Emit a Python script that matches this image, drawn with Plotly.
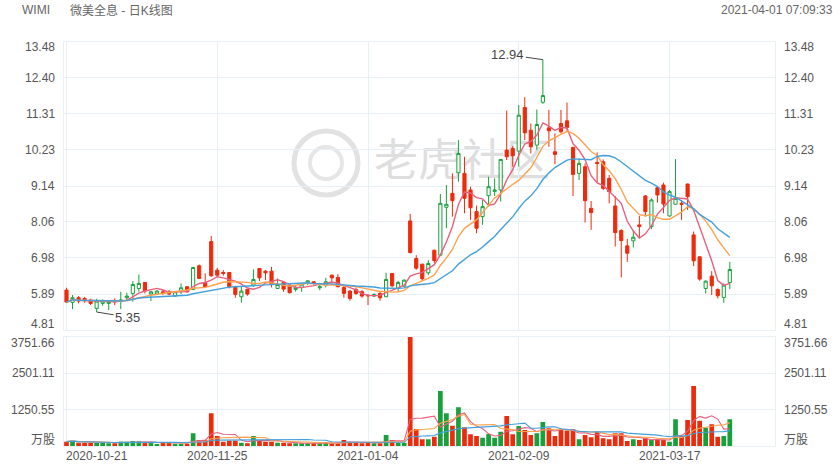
import plotly.graph_objects as go
import pandas as pd
import numpy as np

# ---------------- data ----------------
holidays = ['2020-11-26', '2020-12-25', '2021-01-01', '2021-01-18', '2021-02-15']
dates = [d.strftime('%Y-%m-%d') for d in
         pd.bdate_range('2020-10-21', '2021-03-31', freq='C', holidays=holidays)]

opens = [6.01, 5.64, 5.78, 5.76, 5.71, 5.46, 5.61, 5.61, 5.69, 5.68,
         5.78, 5.91, 6.06, 6.24, 5.89, 5.89, 5.96, 5.96, 5.83, 5.96,
         6.11, 6.03, 6.74, 6.23, 7.47, 6.61, 6.54, 6.54, 6.10, 5.81,
         6.03, 6.16, 6.66, 6.58, 6.58, 6.06, 6.24, 6.16, 6.03, 6.09,
         6.21, 6.26, 6.08, 6.16, 6.46, 6.39, 6.09, 5.98, 6.03, 5.96,
         5.86, 5.83, 5.91, 5.81, 6.51, 6.06, 6.13, 8.09, 6.96, 6.79,
         6.53, 7.21, 7.06, 8.50, 8.92, 9.54, 9.52, 9.02, 8.37, 8.22,
         8.85, 8.98, 9.02, 10.22, 10.27, 10.19, 11.50, 10.82, 10.37, 11.66,
         10.89, 10.17, 11.02, 11.10, 10.30, 9.52, 9.72, 8.47, 9.85, 9.87,
         9.37, 8.54, 7.80, 7.34, 7.49, 7.97, 8.84, 7.92, 9.09, 9.17,
         8.24, 8.59, 8.62, 9.20, 7.67, 7.01, 6.06, 6.43, 6.03, 5.79,
         6.24]
highs = [6.08, 5.86, 5.83, 5.80, 5.75, 5.75, 5.73, 5.71, 5.76, 5.96,
         5.93, 6.28, 6.48, 6.25, 5.98, 6.01, 6.03, 6.01, 5.98, 6.21,
         6.13, 6.71, 6.78, 6.51, 7.64, 6.68, 6.61, 6.55, 6.14, 6.11,
         6.04, 6.63, 6.67, 6.61, 6.71, 6.36, 6.26, 6.18, 6.13, 6.21,
         6.30, 6.27, 6.23, 6.38, 6.47, 6.49, 6.13, 6.01, 6.09, 6.01,
         5.88, 5.91, 5.96, 6.53, 6.52, 6.29, 6.33, 8.30, 7.06, 6.80,
         6.91, 7.22, 8.90, 9.17, 9.52, 10.52, 10.02, 9.12, 8.55, 8.72,
         9.42, 9.37, 9.95, 11.41, 10.34, 11.58, 11.81, 11.02, 11.44, 12.94,
         11.43, 10.72, 11.43, 11.65, 10.32, 9.97, 9.82, 8.69, 10.15, 9.94,
         9.47, 8.84, 7.84, 7.55, 7.82, 8.24, 8.87, 8.77, 9.12, 9.24,
         9.02, 9.95, 8.72, 9.21, 7.77, 7.03, 6.30, 6.58, 6.06, 6.21,
         6.86]
lows = [5.62, 5.44, 5.61, 5.63, 5.56, 5.35, 5.54, 5.41, 5.56, 5.44,
        5.71, 5.66, 5.96, 5.91, 5.68, 5.88, 5.86, 5.86, 5.81, 5.89,
        5.93, 6.01, 6.34, 6.10, 6.41, 6.41, 6.44, 6.06, 5.78, 5.63,
        5.84, 6.11, 6.28, 6.31, 6.09, 6.05, 5.96, 5.91, 5.96, 5.96,
        6.16, 6.17, 6.01, 6.09, 6.26, 6.10, 5.78, 5.69, 5.86, 5.78,
        5.56, 5.81, 5.69, 5.80, 6.09, 5.96, 6.12, 7.11, 6.62, 6.29,
        6.46, 6.82, 7.05, 7.87, 8.22, 9.27, 8.32, 8.12, 7.72, 7.97,
        8.52, 8.84, 8.67, 9.92, 9.72, 9.72, 10.52, 10.12, 10.22, 11.61,
        10.32, 9.80, 10.72, 10.80, 8.84, 9.32, 8.04, 7.82, 9.25, 9.02,
        8.62, 7.32, 6.39, 6.86, 7.29, 7.57, 8.22, 7.84, 8.64, 8.32,
        8.22, 8.58, 8.12, 8.42, 6.73, 6.29, 5.91, 5.86, 5.76, 5.63,
        6.04]
closes = [5.65, 5.78, 5.68, 5.69, 5.61, 5.68, 5.68, 5.66, 5.66, 5.71,
          5.83, 6.18, 6.21, 5.98, 5.96, 5.98, 5.93, 5.89, 5.96, 6.08,
          5.96, 6.69, 6.36, 6.11, 6.44, 6.46, 6.51, 6.11, 5.88, 5.98,
          5.89, 6.33, 6.38, 6.53, 6.19, 6.18, 6.04, 5.93, 6.09, 6.19,
          6.29, 6.23, 6.11, 6.26, 6.38, 6.11, 5.91, 5.76, 5.91, 5.83,
          5.84, 5.88, 5.78, 6.33, 6.14, 6.24, 6.31, 7.14, 6.67, 6.35,
          6.81, 6.90, 8.62, 8.59, 8.70, 10.12, 8.77, 8.49, 7.87, 8.52,
          9.12, 9.02, 9.94, 10.02, 10.05, 11.27, 10.74, 10.32, 10.99, 11.86,
          10.80, 10.09, 10.77, 10.90, 9.49, 9.82, 8.70, 8.34, 9.82, 9.07,
          8.97, 7.74, 7.50, 7.12, 7.60, 7.92, 8.37, 8.72, 8.87, 8.60,
          8.97, 8.77, 8.59, 8.82, 6.89, 6.34, 6.28, 6.14, 5.84, 6.16,
          6.63]
volumes = [149, 183, 114, 114, 114, 114, 114, 91, 91, 149,
           149, 172, 160, 137, 114, 69, 114, 114, 80, 80,
           80, 435, 206, 206, 1121, 343, 149, 183, 183, 114,
           91, 343, 206, 149, 149, 114, 114, 91, 91, 91,
           91, 91, 91, 137, 91, 114, 206, 137, 114, 91,
           114, 91, 91, 378, 206, 114, 114, 3751.66, 583, 229,
           229, 320, 1888, 1121, 698, 1327, 641, 400, 343, 286,
           412, 286, 492, 1030, 400, 686, 549, 378, 435, 824,
           606, 343, 572, 526, 572, 229, 378, 297, 492, 263,
           229, 435, 435, 172, 229, 206, 263, 206, 206, 206,
           149, 915, 343, 892, 2059, 869, 629, 744, 320, 343,
           915]

price_ticks = [4.81, 5.89, 6.98, 8.06, 9.14, 10.23, 11.31, 12.40, 13.48]
vol_ticks = [0, 1250.55, 2501.11, 3751.66]
vol_tick_text = ['万股', '1250.55', '2501.11', '3751.66']
date_ticks = ['2020-10-21', '2020-11-25', '2021-01-04', '2021-02-09', '2021-03-17']
title_code = 'WIMI'
title_name = '微美全息 - 日K线图'
timestamp = '2021-04-01 07:09:33'
watermark = '老虎社区'

# ---------------- style ----------------
RED = '#ee2a0c'
GREEN = '#18a03c'
MA_COLORS = {5: '#e9607f', 10: '#ffa24f', 20: '#44a0dc'}
GRID = '#e8f0f7'
TXT = '#555555'
FONT = 'Liberation Sans, Arial, Noto Sans CJK SC, sans-serif'
W, H = 840, 470
PX_L, PX_R = 64, 775
P_TOP, P_BOT = 41.7, 330
V_TOP, V_BOT = 336.7, 446


def py(px):
    return (H - px) / H


close_s = pd.Series(closes)
vol_s = pd.Series(volumes)

fig = go.Figure()
fig.add_trace(go.Candlestick(
    x=dates, open=opens, high=highs, low=lows, close=closes,
    increasing=dict(line=dict(color=GREEN, width=1), fillcolor='white'),
    decreasing=dict(line=dict(color=RED, width=1), fillcolor=RED),
    whiskerwidth=0, hoverinfo='skip', xaxis='x', yaxis='y', showlegend=False))
for n, c in MA_COLORS.items():
    fig.add_trace(go.Scatter(x=dates, y=close_s.rolling(n, min_periods=1).mean(),
                             mode='lines', line=dict(color=c, width=1.4),
                             hoverinfo='skip', xaxis='x', yaxis='y', showlegend=False))

bar_colors = [GREEN if c >= o else RED for o, c in zip(opens, closes)]
fig.add_trace(go.Bar(x=dates, y=volumes, marker=dict(color=bar_colors, line=dict(width=0)),
                     hoverinfo='skip', xaxis='x2', yaxis='y2', showlegend=False))
for n, c in MA_COLORS.items():
    fig.add_trace(go.Scatter(x=dates, y=vol_s.rolling(n, min_periods=1).mean(),
                             mode='lines', line=dict(color=c, width=1.1),
                             hoverinfo='skip', xaxis='x2', yaxis='y2', showlegend=False))

xr = [-(66.5 - PX_L) / 6.03, (PX_R - 66.5) / 6.03]
axis_common = dict(showline=True, linecolor=GRID, linewidth=1, mirror=True,
                   showgrid=True, gridcolor=GRID, gridwidth=1, zeroline=False,
                   showticklabels=False, ticks='', fixedrange=True)

annotations = []
# y labels
for v in price_ticks:
    shift = -5 if v == price_ticks[-1] else (6 if v == price_ticks[0] else 0)
    lab = f'{v:.2f}'
    annotations.append(dict(x=57 / W, xref='paper', y=v, yref='y', text=lab, showarrow=False,
                            xanchor='right', yanchor='middle', yshift=shift))
    annotations.append(dict(x=782 / W, xref='paper', y=v, yref='y', text=lab, showarrow=False,
                            xanchor='left', yanchor='middle', yshift=shift))
for v, lab in zip(vol_ticks, vol_tick_text):
    shift = -6 if v == vol_ticks[-1] else (6 if v == vol_ticks[0] else 0)
    annotations.append(dict(x=57 / W, xref='paper', y=v, yref='y2', text=lab, showarrow=False,
                            xanchor='right', yanchor='middle', yshift=shift))
    annotations.append(dict(x=782 / W, xref='paper', y=v, yref='y2', text=lab, showarrow=False,
                            xanchor='left', yanchor='middle', yshift=shift))
# x labels
for k, d in enumerate(date_ticks):
    if k == 0:
        annotations.append(dict(x=PX_L / W, xref='paper', y=py(456), yref='paper', text=d,
                                showarrow=False, xanchor='left', yanchor='middle'))
    else:
        annotations.append(dict(x=d, xref='x2', y=py(456), yref='paper', text=d,
                                showarrow=False, xanchor='center', yanchor='middle'))
# header
annotations += [
    dict(x=20 / W, xref='paper', y=py(10), yref='paper', text=title_code, showarrow=False,
         xanchor='left', yanchor='middle', font=dict(size=12, color='#666666')),
    dict(x=68 / W, xref='paper', y=py(10), yref='paper', text=title_name, showarrow=False,
         xanchor='left', yanchor='middle', font=dict(size=12, color='#666666')),
    dict(x=835 / W, xref='paper', y=py(10), yref='paper', text=timestamp, showarrow=False,
         xanchor='right', yanchor='middle', font=dict(size=12, color='#666666')),
]
# extremes
imax = int(np.argmax(highs))
imin = int(np.argmin(lows))
annotations.append(dict(x=dates[imax], y=highs[imax], xref='x', yref='y', text=f'{highs[imax]:.2f}',
                        showarrow=True, arrowhead=0, arrowwidth=1, arrowcolor='#444444',
                        ax=-35, ay=-5, font=dict(size=13, color='#444444')))
annotations.append(dict(x=dates[imin], y=lows[imin], xref='x', yref='y', text=f'{lows[imin]:.2f}',
                        showarrow=True, arrowhead=0, arrowwidth=1, arrowcolor='#444444',
                        ax=31, ay=5, font=dict(size=13, color='#444444')))

shapes = [
    dict(type='circle', xref='paper', yref='paper', x0=294 / W, x1=358 / W, y0=py(195), y1=py(131),
         line=dict(color='#e2e2e2', width=5), layer='below'),
    dict(type='circle', xref='paper', yref='paper', x0=310 / W, x1=342 / W, y0=py(179), y1=py(147),
         line=dict(color='#e6e6e6', width=4), layer='below'),
    dict(type='rect', xref='paper', yref='paper', x0=372 / W, x1=552 / W, y0=py(190), y1=py(138),
         line=dict(width=0), fillcolor='rgba(0,0,0,0)', layer='below',
         label=dict(text=watermark, font=dict(size=44, color='#dedede',
                                              family='Noto Sans CJK SC'))),
]

fig.update_layout(
    width=W, height=H, margin=dict(l=0, r=0, t=0, b=0),
    paper_bgcolor='white', plot_bgcolor='white',
    font=dict(family=FONT, size=12, color=TXT),
    showlegend=False, bargap=0.22, boxgap=0.25, hovermode=False,
    xaxis=dict(domain=[PX_L / W, PX_R / W], type='category', range=xr,
               tickvals=date_ticks, anchor='y', rangeslider=dict(visible=False), **axis_common),
    xaxis2=dict(domain=[PX_L / W, PX_R / W], type='category', range=xr, matches='x',
                tickvals=date_ticks, anchor='y2', **axis_common),
    yaxis=dict(domain=[py(P_BOT), py(P_TOP)], range=[price_ticks[0], price_ticks[-1]],
               tickvals=price_ticks, anchor='x', **axis_common),
    yaxis2=dict(domain=[py(V_BOT), py(V_TOP)], range=[0, vol_ticks[-1]],
                tickvals=vol_ticks, anchor='x2', **axis_common),
    annotations=annotations, shapes=shapes,
)

fig.write_html('out.html', config={'displayModeBar': False},
               post_script="document.body.style.margin='0';document.body.style.overflow='hidden';")
